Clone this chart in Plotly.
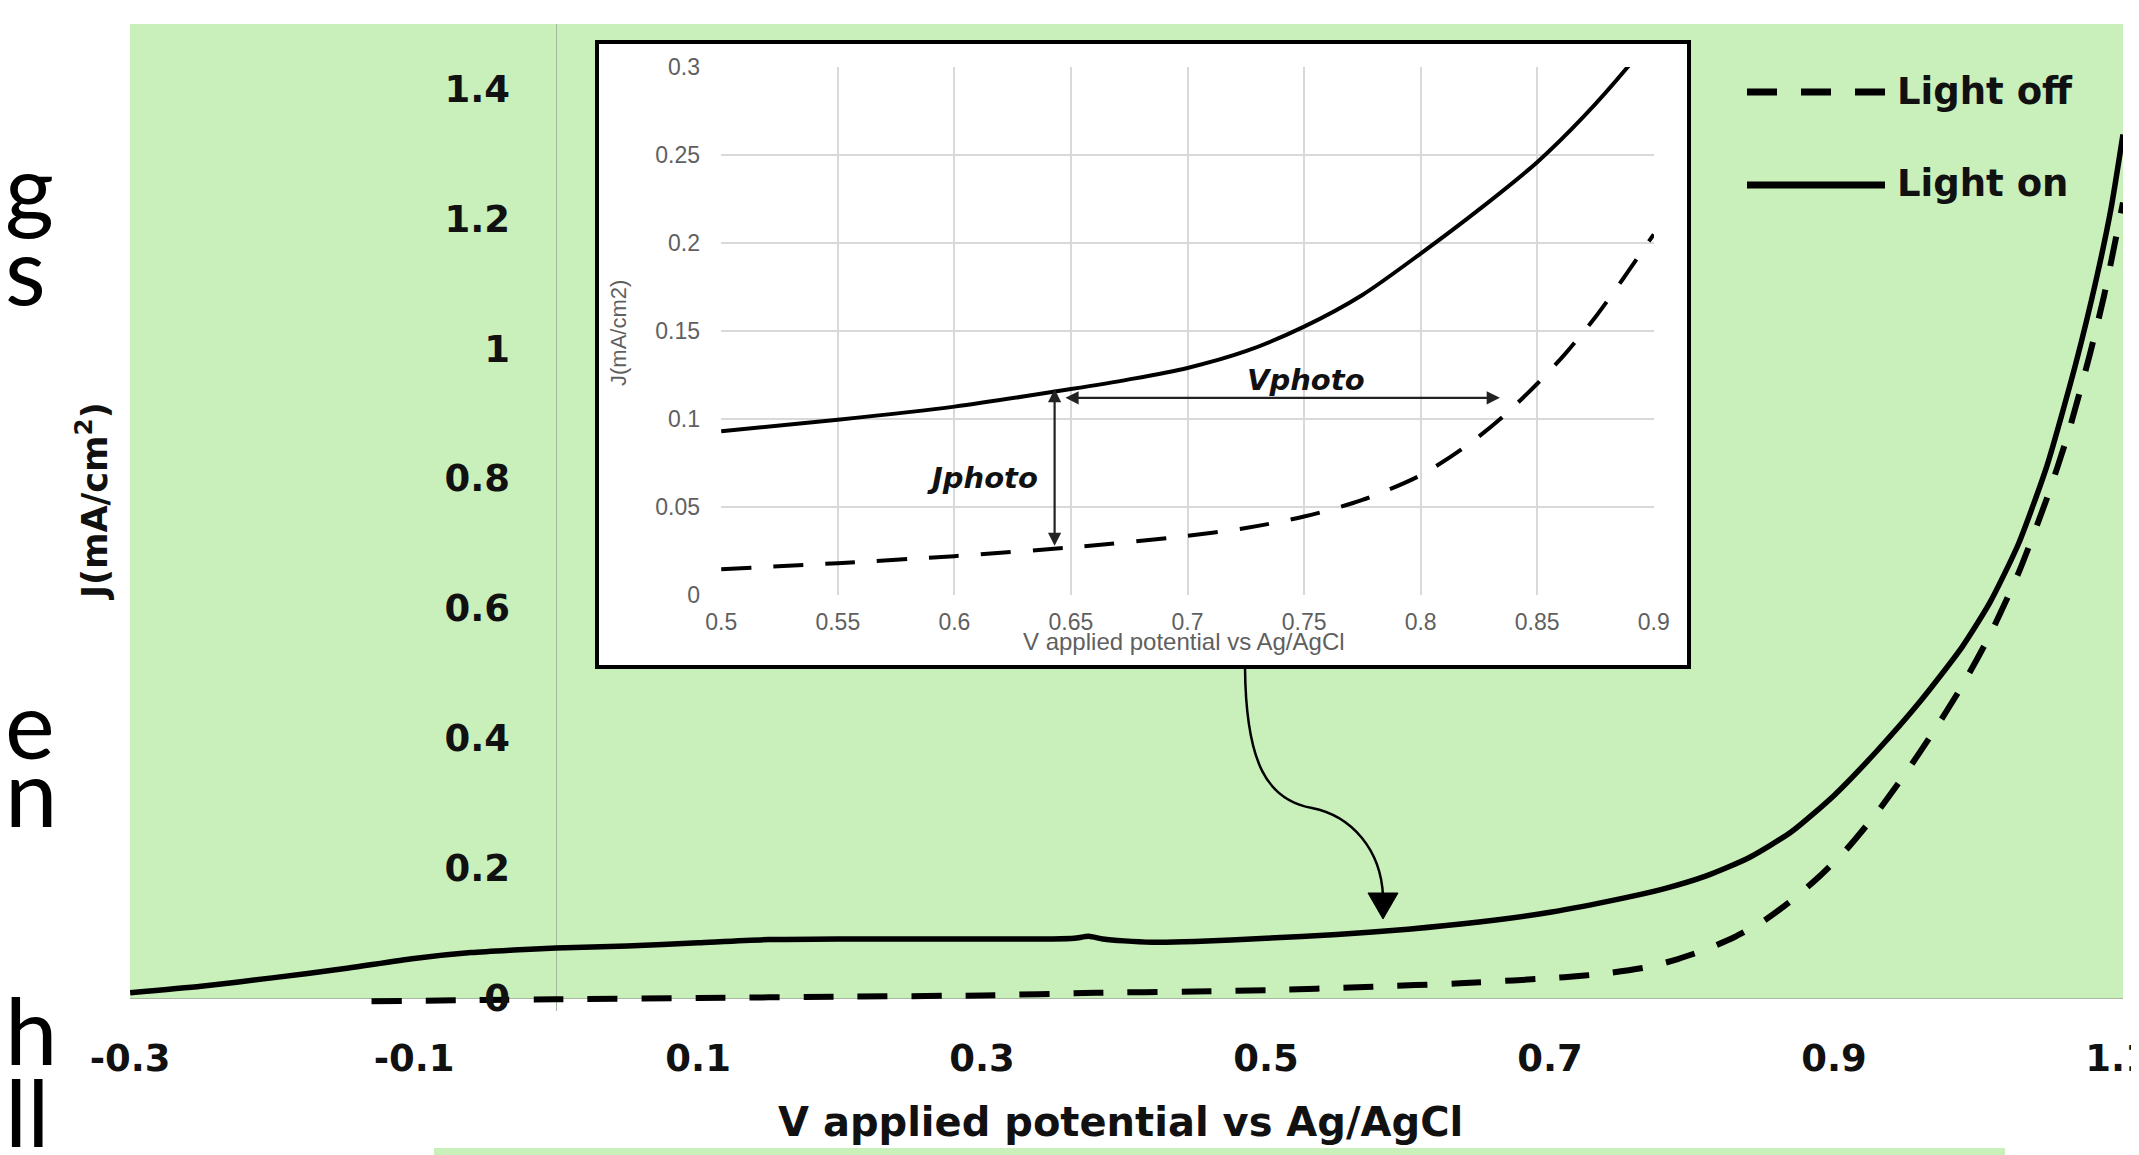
import plotly.graph_objects as go

# ---------------- data ----------------
# main chart: Light on (solid)
v_on = [-0.30, -0.25, -0.20, -0.15, -0.10, -0.06, -0.03, 0.00, 0.05, 0.10, 0.15, 0.20, 0.25,
        0.30, 0.35, 0.365, 0.375, 0.385, 0.40, 0.42, 0.45, 0.50, 0.55, 0.60, 0.65, 0.70,
        0.75, 0.78, 0.81, 0.84, 0.87, 0.90, 0.93, 0.96, 0.99, 1.01, 1.03, 1.05, 1.07,
        1.085, 1.095, 1.1035]
j_on = [0.008, 0.018, 0.031, 0.045, 0.061, 0.070, 0.074, 0.077, 0.080, 0.085, 0.090, 0.091,
        0.091, 0.091, 0.091, 0.092, 0.095, 0.091, 0.088, 0.086, 0.087, 0.092, 0.098, 0.106,
        0.117, 0.132, 0.153, 0.168, 0.188, 0.216, 0.256, 0.312, 0.380, 0.455, 0.540, 0.610,
        0.700, 0.820, 0.975, 1.110, 1.215, 1.330]

# main chart: Light off (dashed)
v_off = [-0.13, -0.05, 0.00, 0.10, 0.20, 0.30, 0.38, 0.45, 0.50, 0.57, 0.64, 0.71, 0.74,
         0.77, 0.79, 0.81, 0.83, 0.85, 0.87, 0.89, 0.91, 0.93, 0.95, 0.97, 0.99, 1.01, 1.03,
         1.05, 1.065, 1.08, 1.09, 1.1035]
j_off = [-0.005, -0.003, -0.002, 0.000, 0.002, 0.004, 0.008, 0.010, 0.012, 0.017, 0.023,
         0.032, 0.038, 0.048, 0.060, 0.075, 0.094, 0.118, 0.150, 0.188, 0.232, 0.285, 0.345,
         0.410, 0.480, 0.560, 0.655, 0.770, 0.870, 0.990, 1.080, 1.225]

# inset: Light on / Light off
iv_on = [0.50, 0.55, 0.60, 0.65, 0.675, 0.70, 0.725, 0.75, 0.775, 0.80, 0.825, 0.85, 0.87,
         0.89, 0.91]
ij_on = [0.093, 0.0995, 0.107, 0.117, 0.1225, 0.129, 0.1385, 0.1525, 0.1705, 0.194, 0.219,
         0.246, 0.272, 0.302, 0.336]
iv_off = [0.50, 0.55, 0.60, 0.65, 0.70, 0.725, 0.75, 0.775, 0.80, 0.82, 0.835, 0.85, 0.862,
          0.875, 0.887, 0.90]
ij_off = [0.0146, 0.018, 0.022, 0.027, 0.0335, 0.038, 0.0445, 0.054, 0.068, 0.085, 0.101,
          0.120, 0.137, 0.158, 0.180, 0.205]

# photo-current / photo-voltage markers in the inset
jphoto_v = 0.643
jphoto_j = [0.027, 0.117]
vphoto_v = [0.647, 0.834]
vphoto_j = 0.112

# ticks
x_tickvals = [-0.3, -0.1, 0.1, 0.3, 0.5, 0.7, 0.9, 1.1]
x_ticktext = ["-0.3", "-0.1", "0.1", "0.3", "0.5", "0.7", "0.9", "1.1"]
y_tickvals = [0, 0.2, 0.4, 0.6, 0.8, 1.0, 1.2, 1.4]
y_ticktext = ["0", "0.2", "0.4", "0.6", "0.8", "1", "1.2", "1.4"]
ix_tickvals = [0.5, 0.55, 0.6, 0.65, 0.7, 0.75, 0.8, 0.85, 0.9]
ix_ticktext = ["0.5", "0.55", "0.6", "0.65", "0.7", "0.75", "0.8", "0.85", "0.9"]
iy_tickvals = [0, 0.05, 0.1, 0.15, 0.2, 0.25, 0.3]
iy_ticktext = ["0", "0.05", "0.1", "0.15", "0.2", "0.25", "0.3"]

series_names = ["Light off", "Light on"]
x_title = "V applied potential vs Ag/AgCl"
y_title = "J(mA/cm<sup>2</sup>)"
inset_y_title = "J(mA/cm2)"

# ---------------- layout helpers ----------------
# the page body adds an 8px offset; figure is sized to fill the rest of the window
OFF = 8
W, H = 2139 - OFF, 1155 - OFF
# plot area in window pixels
RL, RR, RT, RB = 130, 2123, 24, 1011
PL, PR, PT, PB = RL - OFF, RR - OFF, RT - OFF, RB - OFF
GREEN = "#c9efbb"


def px(x):
    """window pixel x -> paper fraction"""
    return (x - OFF - PL) / (PR - PL)


def py(y):
    """window pixel y -> paper fraction"""
    return (PB - (y - OFF)) / (PB - PT)


fig = go.Figure()

# main traces
fig.add_trace(go.Scatter(x=v_off, y=j_off, mode="lines", name=series_names[0],
                         line=dict(color="black", width=6, dash="30px,24px", shape="spline", smoothing=0.6),
                         showlegend=False, xaxis="x", yaxis="y"))
fig.add_trace(go.Scatter(x=v_on, y=j_on, mode="lines", name=series_names[1],
                         line=dict(color="black", width=5.5, shape="spline", smoothing=0.6),
                         showlegend=False, xaxis="x", yaxis="y"))
# inset traces
fig.add_trace(go.Scatter(x=iv_off, y=ij_off, mode="lines", name=series_names[0],
                         line=dict(color="black", width=4, dash="30px,22px", shape="spline", smoothing=0.8),
                         showlegend=False, xaxis="x2", yaxis="y2"))
fig.add_trace(go.Scatter(x=iv_on, y=ij_on, mode="lines", name=series_names[1],
                         line=dict(color="black", width=4, shape="spline", smoothing=0.8),
                         showlegend=False, xaxis="x2", yaxis="y2"))

tickfont_main = dict(family="DejaVu Sans", size=37, color="#111111", weight="bold")
tickfont_inset = dict(family="Liberation Sans", size=23, color="#5f5f5f")

fig.update_layout(
    width=W, height=H, autosize=False,
    margin=dict(l=PL, r=W - PR, t=PT, b=H - PB, pad=0, autoexpand=False),
    paper_bgcolor="white", plot_bgcolor="rgba(0,0,0,0)",
    xaxis=dict(domain=[0, 1], range=[-0.3001, 1.1035], tickvals=x_tickvals, ticktext=x_ticktext,
               showgrid=False, zeroline=True, zerolinecolor="#a8b8a0", zerolinewidth=1,
               showline=False, ticks="", tickfont=tickfont_main, ticklabelstandoff=22,
               ticklabeloverflow="allow", anchor="y", automargin=False),
    yaxis=dict(domain=[0, 1], range=[-0.02, 1.5], tickvals=y_tickvals, ticktext=y_ticktext,
               showgrid=False, zeroline=True, zerolinecolor="#a8b8a0", zerolinewidth=1,
               showline=False, ticks="", tickfont=tickfont_main, anchor="free",
               position=px(556), side="left", ticklabelstandoff=46, automargin=False),
    xaxis2=dict(domain=[px(721), px(1654)], range=[0.4999, 0.9001], tickvals=ix_tickvals,
                ticktext=ix_ticktext, showgrid=True, gridcolor="#d9d9d9", gridwidth=2,
                zeroline=False, showline=False, ticks="", tickfont=tickfont_inset,
                anchor="y2", ticklabelstandoff=11, automargin=False),
    yaxis2=dict(domain=[py(595), py(67)], range=[-0.0001, 0.3001], tickvals=iy_tickvals,
                ticktext=iy_ticktext, showgrid=True, gridcolor="#d9d9d9", gridwidth=2,
                zeroline=False, showline=False, ticks="", tickfont=tickfont_inset,
                anchor="x2", ticklabelstandoff=20, automargin=False),
    showlegend=False,
)

shapes = []
# green plot area (y from 0 to top)
shapes.append(dict(type="rect", xref="paper", yref="paper", x0=0, x1=1, y0=py(998), y1=1,
                   fillcolor=GREEN, line=dict(width=0), layer="below"))
# green band at the bottom
shapes.append(dict(type="rect", xref="paper", yref="paper", x0=px(434), x1=px(2005), y0=py(1160),
                   y1=py(1148), fillcolor=GREEN, line=dict(width=0), layer="below"))
# inset frame
shapes.append(dict(type="rect", xref="paper", yref="paper", x0=px(597), x1=px(1689), y0=py(667),
                   y1=py(42), fillcolor="white", line=dict(color="black", width=4), layer="below"))


# curved pointer from inset to main curve
def P(x, y):
    return f"{px(x):.5f},{py(y):.5f}"


path = (f"M{P(1245, 668)} C{P(1246, 765)} {P(1268, 800)} {P(1312, 808)} "
        f"C{P(1352, 816)} {P(1381, 850)} {P(1383, 896)}")
shapes.append(dict(type="path", xref="paper", yref="paper", path=path,
                   line=dict(color="black", width=2.5), layer="above"))
head = f"M{P(1368, 893)} L{P(1398, 893)} L{P(1383, 919)} Z"
shapes.append(dict(type="path", xref="paper", yref="paper", path=head, fillcolor="black",
                   line=dict(color="black", width=1), layer="above"))

# legend samples
shapes.append(dict(type="line", xref="paper", yref="paper", x0=px(1747), x1=px(1885), y0=py(92),
                   y1=py(92), line=dict(color="black", width=7, dash="30px,24px"), layer="above"))
shapes.append(dict(type="line", xref="paper", yref="paper", x0=px(1747), x1=px(1885), y0=py(185),
                   y1=py(185), line=dict(color="black", width=7), layer="above"))
fig.update_layout(shapes=shapes)

ann = []
legend_font = dict(family="DejaVu Sans", size=37, color="#111111", weight="bold")
ann.append(dict(xref="paper", yref="paper", x=px(1895), y=py(92), text=series_names[0],
                showarrow=False, xanchor="left", yanchor="middle", font=legend_font))
ann.append(dict(xref="paper", yref="paper", x=px(1895), y=py(184), text=series_names[1],
                showarrow=False, xanchor="left", yanchor="middle", font=legend_font))

# main axis titles
ann.append(dict(xref="paper", yref="paper", x=px(1120), y=py(1122), text=x_title, showarrow=False,
                xanchor="center", yanchor="middle",
                font=dict(family="DejaVu Sans", size=40, color="#111111", weight="bold")))
ann.append(dict(xref="paper", yref="paper", x=px(92), y=py(501), text=y_title, showarrow=False,
                textangle=-90, xanchor="center", yanchor="middle",
                font=dict(family="DejaVu Sans", size=35, color="#111111", weight="bold")))

# inset axis titles
ann.append(dict(xref="paper", yref="paper", x=px(1184), y=py(642), text=x_title, showarrow=False,
                xanchor="center", yanchor="middle",
                font=dict(family="Liberation Sans", size=24, color="#5f5f5f")))
ann.append(dict(xref="paper", yref="paper", x=px(619), y=py(333), text=inset_y_title,
                showarrow=False, textangle=-90, xanchor="center", yanchor="middle",
                font=dict(family="Liberation Sans", size=22, color="#5f5f5f")))

# Jphoto / Vphoto double arrows and labels
ann.append(dict(xref="x2", yref="y2", axref="x2", ayref="y2", x=jphoto_v, y=jphoto_j[1],
                ax=jphoto_v, ay=jphoto_j[0], text="", showarrow=True, arrowside="end+start",
                arrowhead=2, arrowsize=1.2, arrowwidth=2.2, arrowcolor="#222222",
                standoff=0, startstandoff=0))
ann.append(dict(xref="x2", yref="y2", axref="x2", ayref="y2", x=vphoto_v[1], y=vphoto_j,
                ax=vphoto_v[0], ay=vphoto_j, text="", showarrow=True, arrowside="end+start",
                arrowhead=2, arrowsize=1.2, arrowwidth=2.2, arrowcolor="#222222",
                standoff=0, startstandoff=0))
photo_font = dict(family="DejaVu Sans", size=29, color="#111111", weight="bold", style="italic")
ann.append(dict(xref="x2", yref="y2", x=0.612, y=0.0665, text="Jphoto", showarrow=False,
                xanchor="center", yanchor="middle", font=photo_font))
ann.append(dict(xref="x2", yref="y2", x=0.751, y=0.122, text="Vphoto", showarrow=False,
                xanchor="center", yanchor="middle", font=photo_font))

# slide text fragments at the far left edge
left_font = dict(family="Lato", size=94, color="black")
for ch, yc in [("g", 186), ("s", 268), ("e", 722), ("n", 790), ("h", 1028), ("ll", 1110)]:
    ann.append(dict(xref="paper", yref="paper", x=px(3), y=py(yc), text=ch, showarrow=False,
                    xanchor="left", yanchor="middle", font=left_font))

fig.update_layout(annotations=ann)

fig.write_html("out.html")
